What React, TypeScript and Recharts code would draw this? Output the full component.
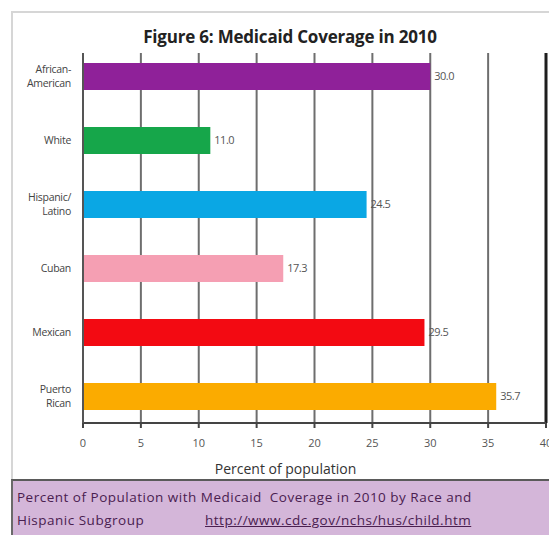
import React from "react";
import {
  BarChart,
  Bar,
  XAxis,
  YAxis,
  CartesianGrid,
  Cell,
  LabelList,
  Label,
  ReferenceLine,
} from "recharts";

// ---------------------------------------------------------------------------
// Data
// ---------------------------------------------------------------------------

const groups = ["African-\nAmerican", "White", "Hispanic/\nLatino", "Cuban", "Mexican", "Puerto\nRican"];
const coverage = [30.0, 11.0, 24.5, 17.3, 29.5, 35.7];
const barColors = ["#8f2199", "#16a64a", "#0aa7e4", "#f59fb3", "#f30a12", "#fbab00"];
const xTicks = [0, 5, 10, 15, 20, 25, 30, 35, 40];

const chartData = groups.map((group, i) => ({ group, value: coverage[i] }));

const FONT = "'Open Sans', 'DejaVu Sans', sans-serif";

// ---------------------------------------------------------------------------
// Multi-line category tick (one <text> per line)
// ---------------------------------------------------------------------------

function GroupTick({ x, y, payload }: { x?: number; y?: number; payload?: { value: string } }) {
  if (x === undefined || y === undefined || !payload) return null;
  const lines = String(payload.value).split("\n");
  const lh = 14;
  const start = y - ((lines.length - 1) * lh) / 2;
  return (
    <g>
      {lines.map((l, i) => (
        <text
          key={i}
          x={x - 4}
          y={start + i * lh}
          textAnchor="end"
          dominantBaseline="central"
          fill="#444"
          fontSize={10.5}
          fontFamily={FONT}
          letterSpacing={-0.3}
        >
          {l}
        </text>
      ))}
    </g>
  );
}

// ---------------------------------------------------------------------------
// Component
// ---------------------------------------------------------------------------

export default function App() {
  return (
    <div
      style={{
        position: "absolute",
        left: 0,
        top: 0,
        width: 549,
        height: 535,
        background: "#fff",
        overflow: "hidden",
        fontFamily: FONT,
      }}
    >
      {/* outer frame */}
      <div
        style={{
          position: "absolute",
          left: 11,
          top: 11,
          width: 560,
          height: 560,
          border: "2px solid #d6d6d6",
        }}
      />
      <div
        style={{
          position: "absolute",
          left: 0,
          top: 25,
          width: 580,
          textAlign: "center",
          fontWeight: 700,
          fontSize: 17,
          color: "#222",
          letterSpacing: -0.2,
        }}
      >
        Figure 6: Medicaid Coverage in 2010
      </div>
      <div style={{ position: "absolute", left: 0, top: 0 }}>
        <BarChart
          width={549}
          height={480}
          data={chartData}
          layout="vertical"
          margin={{ top: 53, right: 3, bottom: 0, left: 0 }}
        >
          <CartesianGrid horizontal={false} vertical stroke="#6e6e6e" strokeWidth={2} />
          <XAxis
            type="number"
            domain={[0, 40]}
            ticks={xTicks}
            interval={0}
            height={57}
            axisLine={{ stroke: "#444", strokeWidth: 2 }}
            tickLine={{ stroke: "#444", strokeWidth: 2 }}
            tickSize={5}
            tick={{ fill: "#555", fontSize: 11, fontFamily: FONT, dy: 9 }}
          >
            <Label
              value="Percent of population"
              position="insideBottom"
              offset={6}
              dx={-29}
              style={{ fill: "#333", fontSize: 14, fontFamily: FONT }}
            />
          </XAxis>
          <YAxis
            type="category"
            dataKey="group"
            width={83}
            padding={{ top: -9, bottom: -5 }}
            axisLine={{ stroke: "#555", strokeWidth: 2 }}
            tickLine={false}
            interval={0}
            tick={<GroupTick />}
          />
          <ReferenceLine x={40} stroke="#1e1e1e" strokeWidth={3} />
          <Bar dataKey="value" barSize={27} isAnimationActive={false}>
            {chartData.map((d, i) => (
              <Cell key={d.group} fill={barColors[i]} />
            ))}
            <LabelList
              dataKey="value"
              position="right"
              offset={4}
              formatter={(v: number) => Number(v).toFixed(1)}
              style={{ fill: "#555", fontSize: 11, fontFamily: FONT, letterSpacing: -0.5 }}
            />
          </Bar>
        </BarChart>
      </div>
      {/* caption box */}
      <div
        style={{
          position: "absolute",
          left: 11,
          top: 479,
          width: 560,
          height: 70,
          background: "#d4b6d9",
          borderTop: "2px solid #5a5a5a",
          borderLeft: "2px solid #6a6a6a",
          color: "#4a2050",
          fontSize: 13.5,
          lineHeight: "25px",
          padding: "5px 0 0 4px",
          boxSizing: "border-box",
          letterSpacing: 0.5,
        }}
      >
        <div style={{ lineHeight: "22px" }}>Percent of Population with Medicaid&nbsp; Coverage in 2010 by Race and</div>
        <div>
          <span style={{ display: "inline-block", width: 188 }}>Hispanic Subgroup</span>
          <span style={{ textDecoration: "underline" }}>http://www.cdc.gov/nchs/hus/child.htm</span>
        </div>
      </div>
    </div>
  );
}
